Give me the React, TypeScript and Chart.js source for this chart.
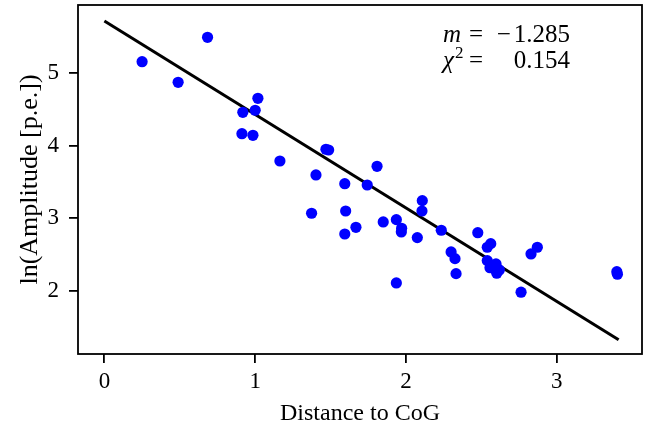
import React, { useEffect, useRef } from "react";
import { Chart, registerables } from "chart.js";

Chart.register(...registerables);

// ---- data ----
const distance = [
  0.25, 0.489, 0.684, 1.018, 0.918, 1.0, 0.912, 0.985, 1.164, 1.469, 1.487,
  1.403, 1.594, 1.808, 1.743, 2.108, 2.106, 1.374, 1.6, 1.849, 1.936, 1.971,
  1.969, 1.668, 1.594, 2.075, 2.234, 2.476, 2.562, 2.539, 2.299, 2.325, 2.332,
  1.936, 2.871, 2.829, 2.539, 2.597, 2.557, 2.619, 2.602, 3.398, 3.402, 2.763,
];
const lnAmplitude = [
  5.151, 4.868, 5.486, 4.648, 4.456, 4.484, 4.162, 4.14, 3.787, 3.948, 3.938,
  3.595, 3.475, 3.714, 3.457, 3.242, 3.1, 3.069, 3.1, 2.949, 2.981, 2.863,
  2.812, 2.876, 2.784, 2.734, 2.835, 2.802, 2.651, 2.602, 2.537, 2.445, 2.239,
  2.111, 2.602, 2.51, 2.418, 2.372, 2.321, 2.29, 2.245, 2.266, 2.231, 1.984,
];
const fitX = [0, 3.41];
const fitY = [5.71, 1.33];
const fitSlope = -1.285;
const fitChi2 = 0.154;

const xTicks = [0, 1, 2, 3];
const yTicks = [2, 3, 4, 5];
const xRange = [-0.175, 3.565];
const yRange = [1.135, 5.93];

const xTitle = "Distance to CoG";
const yTitle = "ln(Amplitude [p.e.])";

const FAMILY = '"Liberation Serif", "Times New Roman", serif';

const framePlugin = {
  id: "frame",
  afterDatasetsDraw(chart: any) {
    const { ctx, chartArea } = chart;
    const { left, top, right, bottom } = chartArea;
    ctx.save();
    ctx.strokeStyle = "#000";
    ctx.lineWidth = 1.8;
    ctx.strokeRect(left, top, right - left, bottom - top);
    ctx.restore();
  },
};

const annotationPlugin = {
  id: "fitAnnotation",
  afterDraw(chart: any) {
    const { ctx } = chart;
    const xL = 443;
    const xEq = 469;
    const xR = 570;
    const y1 = 42;
    const y2 = 68;
    ctx.save();
    ctx.fillStyle = "#000";
    ctx.textBaseline = "alphabetic";
    ctx.textAlign = "left";
    ctx.font = `italic 25px ${FAMILY}`;
    ctx.fillText("m", xL, y1);
    ctx.fillText("\u03c7", xL, y2);
    ctx.font = `17px ${FAMILY}`;
    ctx.fillText("2", xL + 12, y2 - 10);
    ctx.font = `25px ${FAMILY}`;
    ctx.fillText("=", xEq, y1);
    ctx.fillText("=", xEq, y2);
    ctx.textAlign = "right";
    const slopeAbs = Math.abs(fitSlope).toFixed(3);
    ctx.fillText(slopeAbs, xR, y1);
    if (fitSlope < 0) {
      const w = ctx.measureText(slopeAbs).width;
      ctx.fillText("\u2212", xR - w - 3, y1);
    }
    ctx.fillText(fitChi2.toFixed(3), xR, y2);
    ctx.restore();
  },
};

export default function App() {
  const ref = useRef<HTMLCanvasElement>(null);

  useEffect(() => {
    if (!ref.current) return;
    const points = distance.map((x, i) => ({ x, y: lnAmplitude[i] }));
    const line = fitX.map((x, i) => ({ x, y: fitY[i] }));
    const tickFont = { family: FAMILY, size: 23 };

    const chart = new Chart(ref.current, {
      type: "scatter",
      data: {
        datasets: [
          {
            data: points,
            backgroundColor: "#0000ff",
            borderWidth: 0,
            pointRadius: 5.6,
            pointHoverRadius: 5.6,
          } as any,
          {
            data: line,
            showLine: true,
            borderColor: "#000",
            borderWidth: 3,
            pointRadius: 0,
            pointHoverRadius: 0,
            fill: false,
          } as any,
        ],
      },
      options: {
        animation: false,
        responsive: false,
        maintainAspectRatio: false,
        events: [],
        layout: { autoPadding: false, padding: { top: 5, right: 18, left: 0, bottom: 0 } },
        plugins: {
          legend: { display: false },
          tooltip: { enabled: false },
        },
        scales: {
          x: {
            type: "linear",
            min: xRange[0],
            max: xRange[1],
            afterBuildTicks: (s: any) => {
              s.ticks = xTicks.map((v) => ({ value: v }));
            },
            afterFit: (s: any) => {
              s.height = 74;
              s.paddingLeft = 0;
              s.paddingRight = 0;
              s.paddingTop = 0;
              s.paddingBottom = 0;
            },
            grid: {
              drawOnChartArea: false,
              drawTicks: true,
              tickLength: 9,
              color: "#000",
              lineWidth: 1.8,
            },
            border: { display: false },
            ticks: {
              color: "#000",
              font: tickFont,
              padding: 5,
              maxRotation: 0,
              autoSkip: false,
              callback: (v: any) => String(v),
            },
            title: {
              display: true,
              text: xTitle,
              color: "#000",
              font: { family: FAMILY, size: 24 },
              padding: { top: 0, bottom: 0 },
            },
          },
          y: {
            type: "linear",
            min: yRange[0],
            max: yRange[1],
            afterBuildTicks: (s: any) => {
              s.ticks = yTicks.map((v) => ({ value: v }));
            },
            afterFit: (s: any) => {
              s.width = 78;
              s.paddingLeft = 0;
              s.paddingRight = 0;
              s.paddingTop = 0;
              s.paddingBottom = 0;
            },
            grid: {
              drawOnChartArea: false,
              drawTicks: true,
              tickLength: 9,
              color: "#000",
              lineWidth: 1.8,
            },
            border: { display: false },
            ticks: {
              color: "#000",
              font: tickFont,
              padding: 10,
              autoSkip: false,
              callback: (v: any) => String(v),
            },
            title: {
              display: true,
              text: yTitle,
              color: "#000",
              font: { family: FAMILY, size: 26 },
              padding: { top: 15, bottom: 0 },
            },
          },
        },
      } as any,
      plugins: [framePlugin, annotationPlugin],
    });
    return () => chart.destroy();
  }, []);

  return (
    <div style={{ position: "absolute", left: 0, top: 0, width: 660, height: 428, background: "#fff" }}>
      <canvas ref={ref} width={660} height={428} />
    </div>
  );
}
